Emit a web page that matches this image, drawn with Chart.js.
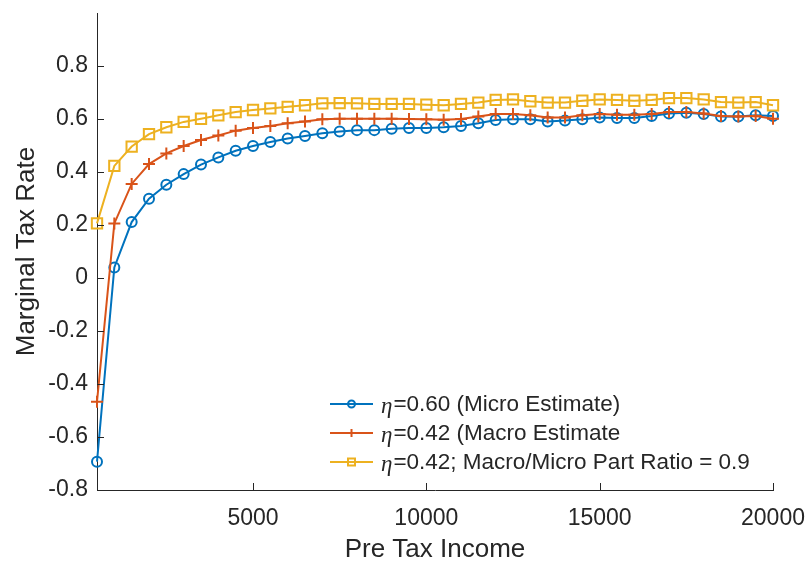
<!DOCTYPE html>
<html>
<head>
<meta charset="utf-8">
<script src="https://cdn.jsdelivr.net/npm/chart.js@4.4.0/dist/chart.umd.min.js"></script>
<style>
    body { margin: 0; background: #fff; }
    #wrap { width: 809px; height: 563px; position: relative; }
</style>
</head>
<body>
<div id="wrap"><canvas id="chart"></canvas></div>
<script>
// Données
const revenus = [500, 1000, 1500, 2000, 2500, 3000, 3500, 4000, 4500, 5000,
    5500, 6000, 6500, 7000, 7500, 8000, 8500, 9000, 9500, 10000,
    10500, 11000, 11500, 12000, 12500, 13000, 13500, 14000, 14500, 15000,
    15500, 16000, 16500, 17000, 17500, 18000, 18500, 19000, 19500, 20000];

const tauMicro = [-0.693, 0.040, 0.211, 0.299, 0.352, 0.392, 0.428, 0.455, 0.480, 0.498,
    0.513, 0.526, 0.536, 0.546, 0.553, 0.558, 0.558, 0.563, 0.566, 0.566,
    0.569, 0.574, 0.584, 0.596, 0.599, 0.599, 0.591, 0.594, 0.599, 0.606,
    0.604, 0.604, 0.611, 0.621, 0.624, 0.619, 0.609, 0.609, 0.614, 0.611];

const tauMacro = [-0.467, 0.206, 0.355, 0.430, 0.470, 0.498, 0.521, 0.538, 0.556, 0.566,
    0.574, 0.584, 0.591, 0.599, 0.601, 0.601, 0.601, 0.601, 0.600, 0.599,
    0.597, 0.600, 0.609, 0.619, 0.619, 0.614, 0.606, 0.606, 0.614, 0.619,
    0.616, 0.616, 0.619, 0.626, 0.626, 0.621, 0.611, 0.609, 0.611, 0.601];

const tauRatio = [0.206, 0.423, 0.496, 0.543, 0.569, 0.589, 0.601, 0.614, 0.626, 0.634,
    0.640, 0.646, 0.652, 0.659, 0.660, 0.659, 0.657, 0.657, 0.657, 0.654,
    0.652, 0.657, 0.662, 0.672, 0.674, 0.667, 0.662, 0.662, 0.669, 0.674,
    0.672, 0.669, 0.672, 0.679, 0.679, 0.674, 0.664, 0.662, 0.664, 0.652];

const xTicks = [5000, 10000, 15000, 20000];
const yTicks = [-0.8, -0.6, -0.4, -0.2, 0, 0.2, 0.4, 0.6, 0.8];

const legendEta = ['=0.60 (Micro Estimate)', '=0.42 (Macro Estimate', '=0.42; Macro/Micro Part Ratio = 0.9'];

const couleurs = ['#0072BD', '#D95319', '#EDB120'];
const texte = '#262626';
const police = "'Liberation Sans', Arial, sans-serif";

function points(ys) {
    return revenus.map((x, i) => ({ x: x, y: ys[i] }));
}

// Petites graduations vers l'intérieur (style MATLAB)
const graduations = {
    id: 'graduations',
    afterDraw(chart) {
        const ctx = chart.ctx;
        const xs = chart.scales.x, ys = chart.scales.y;
        const area = chart.chartArea;
        ctx.save();
        ctx.strokeStyle = texte;
        ctx.lineWidth = 1;
        ctx.beginPath();
        xTicks.forEach(v => {
            const px = Math.round(xs.getPixelForValue(v)) + 0.5;
            ctx.moveTo(px, area.bottom);
            ctx.lineTo(px, area.bottom - 7);
        });
        yTicks.forEach(v => {
            const py = Math.round(ys.getPixelForValue(v)) + 0.5;
            ctx.moveTo(area.left, py);
            ctx.lineTo(area.left + 7, py);
        });
        ctx.stroke();
        ctx.restore();
    }
};

// Légende dessinée dans la zone du graphique, en bas à droite
function dessinerMarqueur(ctx, style, x, y, r, couleur) {
    ctx.strokeStyle = couleur;
    ctx.lineWidth = 2;
    ctx.beginPath();
    if (style === 'circle') {
        ctx.arc(x, y, r, 0, Math.PI * 2);
    } else if (style === 'cross') {
        ctx.moveTo(x - r, y); ctx.lineTo(x + r, y);
        ctx.moveTo(x, y - r); ctx.lineTo(x, y + r);
    } else {
        ctx.rect(x - r, y - r, 2 * r, 2 * r);
    }
    ctx.stroke();
}

const legende = {
    id: 'legende',
    afterDraw(chart) {
        const ctx = chart.ctx;
        const styles = ['circle', 'cross', 'rect'];
        const tailles = [3.5, 4, 3.5];
        ctx.save();
        ctx.textBaseline = 'middle';
        legendEta.forEach((lab, i) => {
            const y = 404 + i * 29;
            ctx.strokeStyle = couleurs[i];
            ctx.lineWidth = 2;
            ctx.beginPath();
            ctx.moveTo(330, y);
            ctx.lineTo(373, y);
            ctx.stroke();
            dessinerMarqueur(ctx, styles[i], 351.5, y, tailles[i], couleurs[i]);
            ctx.fillStyle = texte;
            ctx.font = "italic 23px 'Liberation Serif', serif";
            ctx.fillText('\u03B7', 381, y + 3);
            const w = ctx.measureText('\u03B7').width;
            ctx.font = '22.5px ' + police;
            ctx.fillText(lab, 381 + w + 1, y + 1);
        });
        ctx.restore();
    }
};

const ctx = document.getElementById('chart').getContext('2d');
new Chart(ctx, {
    type: 'line',
    data: {
        datasets: [
            {
                data: points(tauMicro), borderColor: couleurs[0], backgroundColor: 'rgba(0,0,0,0)',
                pointStyle: 'circle', pointRadius: 5, pointBorderWidth: 2, borderWidth: 2, order: 3, clip: false
            },
            {
                data: points(tauMacro), borderColor: couleurs[1], backgroundColor: couleurs[1],
                pointStyle: 'cross', pointRadius: 6, pointBorderWidth: 2, borderWidth: 2, order: 2, clip: false
            },
            {
                data: points(tauRatio), borderColor: couleurs[2], backgroundColor: 'rgba(0,0,0,0)',
                pointStyle: 'rect', pointRadius: 7.3, pointBorderWidth: 2, borderWidth: 2, order: 1, clip: false
            }
        ]
    },
    options: {
        responsive: true,
        maintainAspectRatio: false,
        animation: false,
        layout: { padding: { top: 13, right: 36, left: 0, bottom: 0 } },
        plugins: { legend: { display: false }, tooltip: { enabled: false } },
        elements: { line: { tension: 0, fill: false } },
        scales: {
            x: {
                type: 'linear',
                min: 500,
                max: 20000,
                afterBuildTicks: s => { s.ticks = xTicks.map(v => ({ value: v })); },
                afterFit: s => { s.height = 73; s.paddingLeft = 0; s.paddingRight = 0; },
                grid: { drawOnChartArea: false, drawTicks: false },
                border: { display: true, color: texte, width: 1 },
                ticks: {
                    padding: 15, color: texte, maxRotation: 0,
                    font: { family: police, size: 23 },
                    callback: v => String(v)
                },
                title: {
                    display: true, text: 'Pre Tax Income', color: texte,
                    font: { family: police, size: 26 }, padding: { top: 0, bottom: -2 }
                }
            },
            y: {
                min: -0.8,
                max: 1.0,
                afterBuildTicks: s => { s.ticks = yTicks.map(v => ({ value: v })); },
                afterFit: s => { s.width = 97; s.paddingTop = 0; s.paddingBottom = 0; },
                grid: { drawOnChartArea: false, drawTicks: false },
                border: { display: true, color: texte, width: 1 },
                ticks: {
                    padding: 9, color: texte,
                    font: { family: police, size: 23 },
                    callback: v => (Math.abs(v) < 1e-9 ? '0' : v.toFixed(1))
                },
                title: {
                    display: true, text: 'Marginal Tax Rate', color: texte,
                    font: { family: police, size: 26 }, padding: { top: 11, bottom: 0 }
                }
            }
        }
    },
    plugins: [graduations, legende]
});
</script>
</body>
</html>
